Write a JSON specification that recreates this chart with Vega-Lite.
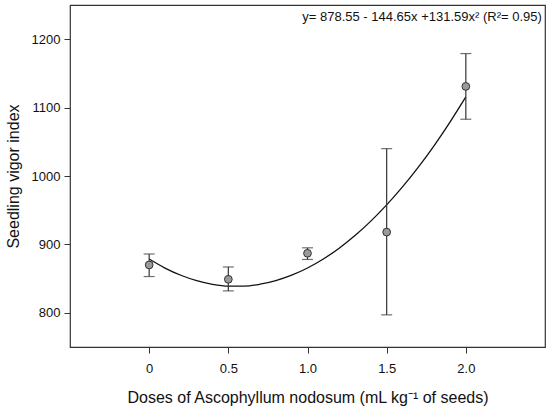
{
  "$schema": "https://vega.github.io/schema/vega-lite/v6.json",
  "autosize": "none",
  "width": 475,
  "height": 342,
  "padding": {"left": 70, "top": 5, "right": 5, "bottom": 64},
  "background": "white",
  "config": {
    "font": "Liberation Sans",
    "view": {"stroke": "#333333", "strokeWidth": 1.2},
    "axis": {
      "grid": false,
      "domain": false,
      "tickColor": "#333333",
      "tickSize": 6,
      "labelColor": "#111111",
      "titleColor": "#111111",
      "labelFontSize": 13,
      "titleFontSize": 16,
      "titleFontWeight": "normal"
    }
  },
  "datasets": {
    "means": [
      {"dose": 0, "vigor": 870, "low": 853, "high": 886},
      {"dose": 0.5, "vigor": 849, "low": 832, "high": 867},
      {"dose": 1.0, "vigor": 887, "low": 878, "high": 895},
      {"dose": 1.5, "vigor": 918, "low": 797, "high": 1040},
      {"dose": 2.0, "vigor": 1131, "low": 1083, "high": 1179}
    ],
    "fit": [
      {"dose": 0.0, "vigor": 878.6},
      {"dose": 0.1, "vigor": 865.4},
      {"dose": 0.2, "vigor": 854.9},
      {"dose": 0.3, "vigor": 847.0},
      {"dose": 0.4, "vigor": 841.7},
      {"dose": 0.5, "vigor": 839.1},
      {"dose": 0.6, "vigor": 839.1},
      {"dose": 0.7, "vigor": 841.8},
      {"dose": 0.8, "vigor": 847.1},
      {"dose": 0.9, "vigor": 855.0},
      {"dose": 1.0, "vigor": 865.5},
      {"dose": 1.1, "vigor": 878.7},
      {"dose": 1.2, "vigor": 894.5},
      {"dose": 1.3, "vigor": 912.9},
      {"dose": 1.4, "vigor": 934.0},
      {"dose": 1.5, "vigor": 957.7},
      {"dose": 1.6, "vigor": 984.0},
      {"dose": 1.7, "vigor": 1012.9},
      {"dose": 1.8, "vigor": 1044.5},
      {"dose": 1.9, "vigor": 1078.8},
      {"dose": 2.0, "vigor": 1115.6}
    ],
    "note": [
      {"dose": 2.48, "vigor": 1233, "label": "y= 878.55 - 144.65x +131.59x² (R²= 0.95)"}
    ]
  },
  "encoding": {
    "x": {
      "field": "dose",
      "type": "quantitative",
      "scale": {"domain": [-0.5, 2.5], "nice": false, "zero": false},
      "axis": {
        "values": [0, 0.5, 1.0, 1.5, 2.0],
        "labelExpr": "datum.value == 0 ? '0' : format(datum.value, '.1f')",
        "labelPadding": 9,
        "titlePadding": 14,
        "title": "Doses of Ascophyllum nodosum (mL kg⁻¹ of seeds)"
      }
    },
    "y": {
      "field": "vigor",
      "type": "quantitative",
      "scale": {"domain": [750, 1250], "nice": false, "zero": false},
      "axis": {
        "values": [800, 900, 1000, 1100, 1200],
        "format": "d",
        "labelPadding": 4,
        "titlePadding": 10,
        "title": "Seedling vigor index"
      }
    }
  },
  "layer": [
    {
      "data": {"name": "fit"},
      "mark": {"type": "line", "color": "#111111", "strokeWidth": 1.3, "interpolate": "monotone"}
    },
    {
      "data": {"name": "means"},
      "mark": {"type": "errorbar", "ticks": {"size": 11, "color": "#333333", "thickness": 1.2}, "rule": {"color": "#333333", "strokeWidth": 1.2}},
      "encoding": {
        "y": {"field": "low", "type": "quantitative"},
        "y2": {"field": "high"}
      }
    },
    {
      "data": {"name": "means"},
      "mark": {"type": "point", "shape": "circle", "filled": true, "size": 60, "fill": "#9a9a9a", "stroke": "#333333", "strokeWidth": 1, "opacity": 1}
    },
    {
      "data": {"name": "note"},
      "mark": {"type": "text", "align": "right", "baseline": "middle", "fontSize": 13, "color": "#111111"},
      "encoding": {"text": {"field": "label"}}
    }
  ]
}
